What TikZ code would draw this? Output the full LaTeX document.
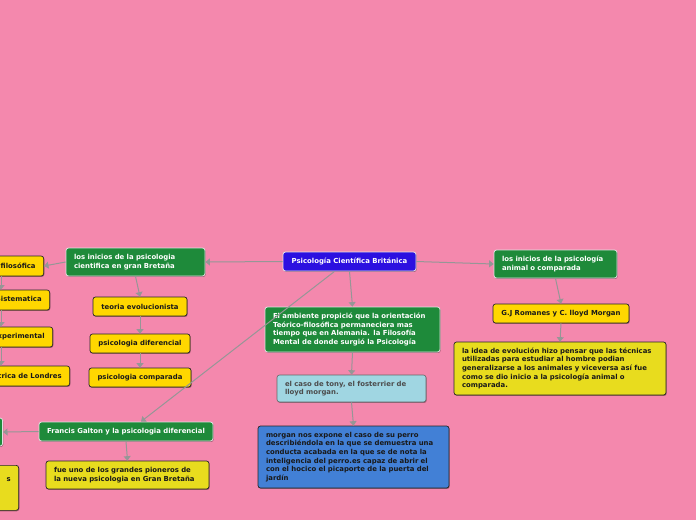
\documentclass[tikz,border=0pt]{standalone}
\usepackage{fontspec}
\setmainfont{DejaVu Sans}
\usetikzlibrary{arrows.meta,shadows}
\definecolor{bgpink}{RGB}{244,136,173}
\definecolor{cblue}{RGB}{44,16,224}
\definecolor{cgreen}{RGB}{30,138,58}
\definecolor{cyel}{RGB}{255,215,0}
\definecolor{cmust}{RGB}{232,220,30}
\definecolor{clblue}{RGB}{160,214,226}
\definecolor{cmblue}{RGB}{66,128,214}
\definecolor{cline}{RGB}{150,150,150}
\begin{document}
\begin{tikzpicture}[x=1pt,y=-1pt,
  box/.style={rounded corners=2.5pt, inner xsep=8pt, inner ysep=1pt,
    font=\fontsize{6.9}{8.6}\selectfont\bfseries, align=left,
    drop shadow={shadow xshift=0.7pt, shadow yshift=-0.9pt, opacity=0.35, fill=black}},
  gbox/.style={box, fill=cgreen, draw=black!12, line width=0.8pt, text=white},
  bbox/.style={box, fill=cblue, draw=black!10, line width=0.8pt, text=white},
  ybox/.style={box, fill=cyel, draw=black!85, line width=0.7pt, text=black!90},
  mbox/.style={box, fill=cmust, draw=black!85, line width=0.7pt, text=black!90},
  lbbox/.style={box, fill=clblue, draw=black!60, line width=0.6pt, text=black!70},
  mbbox/.style={box, fill=cmblue, draw=black!85, line width=0.7pt, text=black!90},
  conn/.style={draw=cline, line width=1pt, -{Triangle[length=4.5pt,width=7pt]}},
]
\useasboundingbox (0,0) rectangle (696,520);
\fill[bgpink] (0,0) rectangle (696,520);
\clip (0,0) rectangle (696,520);

% central
\node[bbox, minimum width=133pt, minimum height=19pt, inner xsep=2pt] (central) at (349.5,261.5) {Psicología Científica Británica};

% left branch
\node[gbox, minimum width=139pt, minimum height=28pt, text width=123pt] (green1) at (135.5,262) {los inicios de la psicologia\\cientifica en gran Bretaña};
\node[ybox, minimum width=94pt, minimum height=19pt, inner xsep=2pt] (teoria) at (140,306.5) {teoria evolucionista};
\node[ybox, minimum width=100pt, minimum height=19pt, inner xsep=2pt] (pdif) at (140,343.5) {psicologia diferencial};
\node[ybox, minimum width=102pt, minimum height=19pt, inner xsep=2pt] (pcomp) at (140,377.5) {psicologia comparada};

% left column (cut off at the left edge)
\coordinate (colx) at (1,0);
\node[ybox, anchor=east, minimum height=20pt] (filos) at (44,266) {psicologia filosófica};
\node[ybox, anchor=east, minimum height=20pt] (sist) at (50,300) {psicologia Sistematica};
\node[ybox, anchor=east, minimum height=20pt] (exper) at (53,337) {psicologia experimental};
\node[ybox, anchor=east, minimum height=20pt] (lond) at (70,376) {Escuela psicométrica de Londres};

% right branch
\node[gbox, minimum width=123pt, minimum height=28pt, text width=107pt] (green2) at (555.5,264) {los inicios de la psicología\\animal o comparada};
\node[ybox, minimum width=136pt, minimum height=19pt, inner xsep=2pt] (gj) at (561,313.5) {G.J Romanes y C. lloyd Morgan};
\node[mbox, minimum width=212pt, minimum height=53pt, text width=196pt] (idea) at (560,368.5) {la idea de evolución hizo pensar que las técnicas\\utilizadas para estudiar al hombre podian\\generalizarse a los animales y viceversa así fue\\como se dio inicio a la psicología animal o\\comparada.};

% middle branch
\node[gbox, minimum width=175pt, minimum height=45pt, text width=159pt] (amb) at (352.5,329.5) {El ambiente propició que la orientación\\Teórico-filosófica permaneciera mas\\tiempo que en Alemania. la Filosofía\\Mental de donde surgió la Psicología};
\node[lbbox, minimum width=149pt, minimum height=27pt, text width=133pt] (caso) at (351.5,388.5) {el caso de tony, el fosterrier de\\lloyd morgan.};
\node[mbbox, minimum width=191pt, minimum height=62pt, text width=175pt] (morgan) at (353.5,457) {morgan nos expone el caso de su perro\\describiéndola en la que se demuestra una\\conducta acabada en la que se de nota la\\inteligencia del perro.es capaz de abrir el\\con el hocico el picaporte de la puerta del\\jardín};

% Galton branch
\node[gbox, minimum width=174pt, minimum height=19pt, inner xsep=2pt] (galton) at (126,431.5) {Francis Galton y la psicologia diferencial};
\node[mbox, minimum width=163pt, minimum height=28pt, text width=147pt] (fue) at (127.5,475) {fue uno de los grandes pioneros de\\la nueva psicologia en Gran Bretaña};
\node[gbox, anchor=east, minimum width=60pt, minimum height=28pt] (lgreen) at (3,432) {\strut};
\node[mbox, anchor=north east, minimum width=70pt, minimum height=45pt, text width=54pt, align=right] (lyel) at (19,465) {s\\[-1pt]\phantom{x}\\\phantom{x}};

% connectors
\draw[conn] (central.west) -- (green1.east);
\draw[conn] (central.east) -- (green2.west);
\draw[conn] (central.south) -- (amb.north);
\draw[conn] ([xshift=-15pt]central.south) -- ([xshift=15pt]galton.north);
\draw[conn] (green1.south) -- (teoria.north);
\draw[conn] (teoria.south) -- (pdif.north);
\draw[conn] (pdif.south) -- (pcomp.north);
\draw[conn] (green1.west) -- (filos.east);
\draw[conn] (filos.south -| colx) -- (sist.north -| colx);
\draw[conn] (sist.south -| colx) -- (exper.north -| colx);
\draw[conn] (exper.south -| colx) -- (lond.north -| colx);
\draw[conn] (green2.south) -- (gj.north);
\draw[conn] (gj.south) -- (idea.north);
\draw[conn] (amb.south) -- (caso.north);
\draw[conn] (caso.south) -- (morgan.north);
\draw[conn] (galton.south) -- (fue.north);
\draw[conn] (galton.west) -- (lgreen.east);
\end{tikzpicture}
\end{document}
